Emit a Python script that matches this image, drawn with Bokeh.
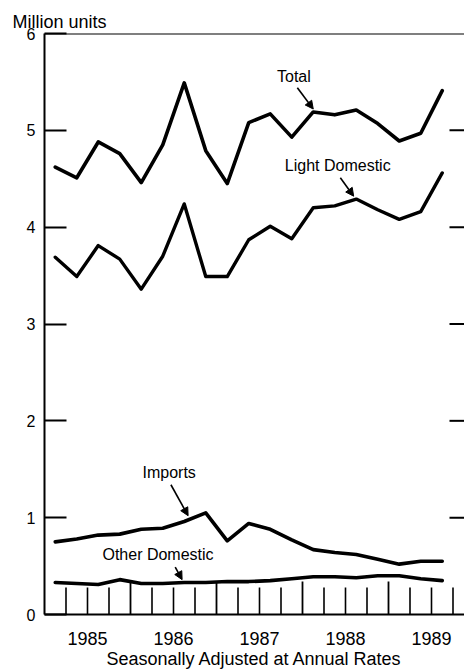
from bokeh.plotting import figure
from bokeh.models import Range1d, FixedTicker, Span, Label, Arrow, NormalHead
from bokeh.embed import file_html
from bokeh.resources import INLINE

# ---- data (million units, seasonally adjusted annual rates, quarterly) ----
years = [1985, 1986, 1987, 1988, 1989]
year_labels = ["1985", "1986", "1987", "1988", "1989"]
n_quarters = 19  # 1985 Q1 .. 1989 Q3

total = [4.62, 4.51, 4.88, 4.76, 4.46, 4.85, 5.49, 4.79, 4.45, 5.08,
         5.17, 4.93, 5.19, 5.16, 5.21, 5.07, 4.89, 4.97, 5.41]
light_domestic = [3.69, 3.49, 3.81, 3.67, 3.36, 3.70, 4.24, 3.49, 3.49, 3.87,
                  4.01, 3.88, 4.20, 4.22, 4.29, 4.18, 4.08, 4.16, 4.56]
imports = [0.75, 0.78, 0.82, 0.83, 0.88, 0.89, 0.96, 1.05, 0.76, 0.94,
           0.88, 0.77, 0.67, 0.64, 0.62, 0.57, 0.52, 0.55, 0.55]
other_domestic = [0.33, 0.32, 0.31, 0.36, 0.32, 0.32, 0.33, 0.33, 0.34, 0.34,
                  0.35, 0.37, 0.39, 0.39, 0.38, 0.40, 0.40, 0.37, 0.35]
y_ticks = [0, 1, 2, 3, 4, 5, 6]

# quarter mid-points
qx = [y + (q - 0.5) / 4 for y in years for q in range(1, 5)][:n_quarters]

FONT = "Liberation Sans"

X0 = 1985
X1 = 1985 + 420 / 86

p = figure(width=464, height=671, output_backend="svg", toolbar_location=None,
           x_range=Range1d(X0, X1), y_range=Range1d(0, 6),
           min_border_left=44, min_border_right=0, min_border_top=33,
           min_border_bottom=56)
p.outline_line_color = None
p.grid.visible = False

# title "Million units"
p.title.text = "Million units"
p.title.text_font = FONT
p.title.text_font_size = "18px"
p.title.text_font_style = "normal"
p.title.text_color = "black"
p.title.align = "left"
p.title.offset = -32
p.title.standoff = 4

# left axis
ya = p.yaxis[0]
ya.ticker = FixedTicker(ticks=y_ticks)
ya.major_tick_in = 22
ya.major_tick_out = 0
ya.minor_tick_line_color = None
ya.axis_line_width = 2
ya.major_tick_line_width = 2
ya.major_label_text_font = FONT
ya.major_label_text_font_size = "16px"
ya.major_label_text_color = "black"
ya.major_label_standoff = 9

# bottom axis with labels at mid-year
xa = p.xaxis[0]
xa.ticker = FixedTicker(ticks=[y + 0.5 for y in years])
xa.major_label_overrides = {y + 0.5: lab for y, lab in zip(years, year_labels)}
xa.major_tick_line_color = None
xa.minor_tick_line_color = None
xa.axis_line_width = 2
xa.major_label_text_font = FONT
xa.major_label_text_font_size = "18px"
xa.major_label_text_color = "black"
xa.major_label_standoff = 11
xa.axis_label = "Seasonally Adjusted at Annual Rates"
xa.axis_label_text_font = FONT
xa.axis_label_text_font_size = "18px"
xa.axis_label_text_font_style = "normal"
xa.axis_label_text_color = "black"
xa.axis_label_standoff = 1

# top border
p.add_layout(Span(location=y_ticks[-1], dimension="width", line_color="black", line_width=2))

# right-hand tick marks
rt = y_ticks[1:-1]
p.segment(x0=[X1 - 15 / 86] * len(rt), y0=rt, x1=[X1] * len(rt), y1=rt,
          line_color="black", line_width=2)

# quarter ticks rising from baseline
minor_x = [y + q / 4 for y in years for q in range(1, 4)]
major_x = [y for y in years[1:]]
p.segment(x0=minor_x, y0=[0] * len(minor_x), x1=minor_x, y1=[0.28] * len(minor_x),
          line_color="black", line_width=1.6)
p.segment(x0=major_x, y0=[0] * len(major_x), x1=major_x, y1=[0.34] * len(major_x),
          line_color="black", line_width=1.8)

# series
for series, lw in [(total, 3.6), (light_domestic, 3.4), (imports, 3.6), (other_domestic, 3.6)]:
    p.line(qx, series, line_color="black", line_width=lw, line_join="round", line_cap="round")

# annotations
def add_label(text, x, y, size="16px"):
    p.add_layout(Label(x=x, y=y, text=text, text_font=FONT, text_font_size=size,
                       text_align="center", text_baseline="middle", text_color="black"))

def add_arrow(x0, y0, x1, y1):
    p.add_layout(Arrow(end=NormalHead(size=8, fill_color="black", line_color="black"),
                       x_start=x0, y_start=y0, x_end=x1, y_end=y1,
                       line_color="black", line_width=1.6))

add_label("Total", 1987.90, 5.56)
add_arrow(1987.94, 5.44, qx[12], total[12] + 0.03)
add_label("Light Domestic", 1988.41, 4.64)
add_arrow(1988.44, 4.51, qx[14] - 0.03, light_domestic[14] + 0.03)
add_label("Imports", 1986.45, 1.47)
add_arrow(1986.47, 1.34, 1986.67, 1.02)
add_label("Other Domestic", 1986.32, 0.62)
add_arrow(1986.52, 0.49, 1986.60, other_domestic[7] + 0.03)

open("out.html", "w").write(file_html(p, INLINE))
